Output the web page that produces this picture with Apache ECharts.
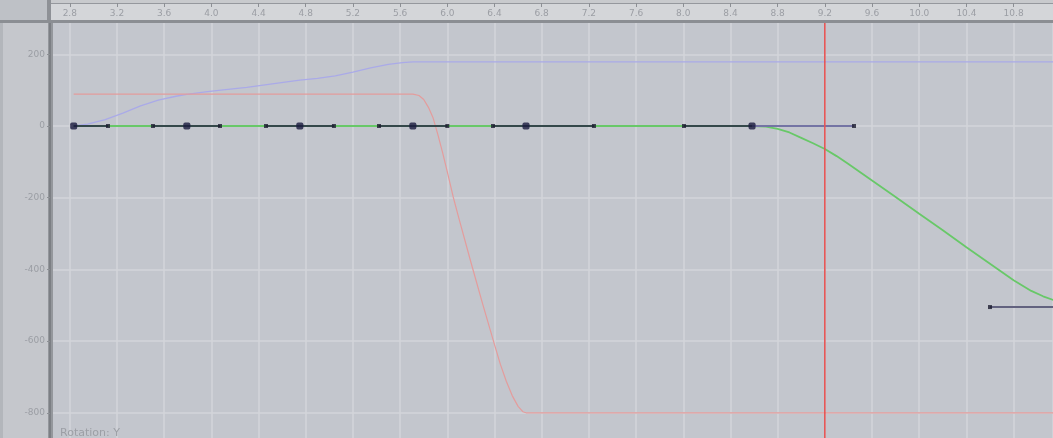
<!DOCTYPE html>
<html><head><meta charset="utf-8">
<script src="https://cdn.jsdelivr.net/npm/echarts@6/dist/echarts.min.js"></script>
<style>html,body{margin:0;padding:0;background:#c3c6cd;overflow:hidden}#c{width:1053px;height:438px;}</style>
</head><body><div id="c"></div>
<script>
// ---- data ----
const channelLabel = 'Rotation: Y';
const currentFrame = 9.2;

const blueX = [2.833, 2.95, 3.1, 3.25, 3.4, 3.55, 3.7, 3.792, 3.95, 4.1, 4.3, 4.5, 4.75, 4.9, 5.05, 5.2, 5.35, 5.5, 5.62, 5.708, 11.5];
const blueY = [0, 5, 18, 36, 56, 72, 83, 88, 95, 101, 108, 117, 128, 133, 140, 150, 162, 172, 177, 179, 179];

const redX = [2.833, 5.708, 5.76, 5.8, 5.84, 5.88, 5.92, 5.96, 6.0, 6.05, 6.1, 6.2, 6.3, 6.4, 6.45, 6.5, 6.55, 6.6, 6.64, 6.667, 11.5];
const redY = [89, 89, 85, 74, 52, 22, -24, -74, -128, -198, -260, -380, -497, -610, -665, -712, -752, -782, -797, -800, -800];

const greenX = [2.833, 8.583, 8.7, 8.8, 8.9, 9.0, 9.1, 9.2, 9.3, 9.4, 9.5, 9.6, 9.8, 10.0, 10.2, 10.4, 10.6, 10.8, 10.95, 11.05, 11.15, 11.3, 11.5];
const greenY = [0, 0, -2, -8, -18, -33, -48, -64, -84, -106, -129, -152, -198, -245, -291, -338, -384, -430, -460, -475, -487, -498, -505];

const keyX = [2.833, 3.792, 4.75, 5.708, 6.667, 8.583, 11.5];
const keyY = [0, 0, 0, 0, 0, 0, -505];
const handleLX = [null, 3.505, 4.463, 5.421, 6.387, 8.006, 10.6];
const handleRX = [3.124, 4.073, 5.039, 6.0, 7.243, 9.447, null];

// axis ranges / ticks
const xMin = 2.4, xMax = 11.134, xStep = 0.4;
const yMin = -1000, yMax = 400, yStep = 200;

// ---- chart ----
const zip = (xs, ys) => xs.map((x, i) => [x, ys[i]]);
const chart = echarts.init(document.getElementById('c'), null, {renderer: 'canvas'});

const gridLine = {show: true, lineStyle: {color: '#d3d5da', width: 1.5}};
const labelFont = {color: '#9b9ea4', fontSize: 9, fontFamily: 'DejaVu Sans'};

const series = [];
series.push({type: 'line', data: zip(blueX, blueY), showSymbol: false, lineStyle: {color: '#aaaae8', width: 1.3}, z: 2, silent: true});
series.push({type: 'line', data: zip(redX, redY), showSymbol: false, lineStyle: {color: '#e49c9c', width: 1.2}, z: 2, silent: true});
series.push({type: 'line', data: zip(greenX, greenY), showSymbol: false, lineStyle: {color: '#68c868', width: 1.8}, z: 3, silent: true});

// handle segments
const handleDots = [];
keyX.forEach((kx, i) => {
  const ky = keyY[i];
  const segs = [];
  if (handleLX[i] !== null) { segs.push([handleLX[i], 'L']); }
  if (handleRX[i] !== null) { segs.push([handleRX[i], 'R']); }
  segs.forEach(([hx, side]) => {
    let col = '#34484a';
    if (i === 5 && side === 'R') col = '#7474a4';
    if (i === 6) col = '#62627f';
    series.push({type: 'line', data: [[hx, ky], [kx, ky]], showSymbol: false, lineStyle: {color: col, width: 2}, z: 4, silent: true});
    handleDots.push([hx, ky]);
  });
});
series.push({type: 'scatter', data: handleDots, symbol: 'rect', symbolSize: 4, itemStyle: {color: '#1c1c30'}, z: 5, silent: true});
series.push({type: 'scatter', data: zip(keyX, keyY), symbol: 'roundRect', symbolSize: 7, itemStyle: {color: '#1a1a3e'}, z: 6, silent: true});
// current frame line
series.push({type: 'line', data: [[currentFrame, yMin], [currentFrame, yMax]], showSymbol: false, lineStyle: {color: '#e65454', width: 1.6}, z: 7, silent: true});

const gridLeft = 22.6, gridTop = -17.4, gridW = 1030.4, gridH = 501.9;

chart.setOption({
  animation: false,
  backgroundColor: '#c3c6cd',
  grid: {left: gridLeft, top: gridTop, width: gridW, height: gridH, containLabel: false, outerBoundsMode: 'none'},
  xAxis: [
    {type: 'value', min: xMin, max: xMax, interval: xStep, position: 'bottom', z: 0,
     axisLine: {show: false, onZero: false}, axisTick: {show: false}, axisLabel: {show: false}, splitLine: gridLine},
    {type: 'value', min: xMin, max: xMax, interval: xStep, position: 'top', offset: -20.4, z: 10,
     axisLine: {show: false, onZero: false}, splitLine: {show: false},
     axisTick: {show: true, inside: true, length: 4, lineStyle: {color: '#8c8f94', width: 1}},
     axisLabel: Object.assign({show: true, inside: true, margin: 6, showMinLabel: false, showMaxLabel: false,
       formatter: v => v.toFixed(1)}, labelFont)}
  ],
  yAxis: [
    {type: 'value', min: yMin, max: yMax, interval: yStep, position: 'left', z: 0,
     axisLine: {show: false, onZero: false}, axisTick: {show: false}, axisLabel: {show: false}, splitLine: gridLine},
    {type: 'value', min: yMin, max: yMax, interval: yStep, position: 'left', offset: -27.4, z: 10,
     axisLine: {show: false, onZero: false}, splitLine: {show: false},
     axisTick: {show: true, length: 3, lineStyle: {color: '#8c8f94', width: 1}},
     axisLabel: Object.assign({show: true, margin: 5, formatter: v => String(v)}, labelFont)}
  ],
  series: series,
  graphic: [
    // left gutter
    {type: 'rect', shape: {x: 0, y: 22, width: 48, height: 416}, style: {fill: '#c5c7cc'}, z: 8, silent: true},
    {type: 'rect', shape: {x: 0, y: 22, width: 3, height: 416}, style: {fill: '#b3b6bb'}, z: 8, silent: true},
    {type: 'rect', shape: {x: 48, y: 22, width: 5, height: 416}, style: {fill: '#94979c'}, z: 8, silent: true},
    {type: 'rect', shape: {x: 49, y: 22, width: 2, height: 416}, style: {fill: '#7c7f84'}, z: 8, silent: true},
    // top ruler
    {type: 'rect', shape: {x: 0, y: 0, width: 1053, height: 22}, style: {fill: '#d4d6d9'}, z: 8, silent: true},
    {type: 'rect', shape: {x: 0, y: 0, width: 1053, height: 3}, style: {fill: '#c8cacd'}, z: 8, silent: true},
    {type: 'rect', shape: {x: 0, y: 3, width: 1053, height: 1}, style: {fill: '#95989d'}, z: 8, silent: true},
    {type: 'rect', shape: {x: 0, y: 20, width: 1053, height: 3}, style: {fill: '#8b8e93'}, z: 8, silent: true},
    // top-left corner
    {type: 'rect', shape: {x: 0, y: 0, width: 48, height: 20}, style: {fill: '#bec1c6'}, z: 15, silent: true},
    {type: 'rect', shape: {x: 47, y: 0, width: 4, height: 22}, style: {fill: '#8e9196'}, z: 15, silent: true},
    {type: 'rect', shape: {x: 0, y: 20, width: 51, height: 3}, style: {fill: '#8b8e93'}, z: 15, silent: true},
    // channel label
    {type: 'text', x: 60, y: 433, style: {text: channelLabel, fill: '#9c9fa5', font: '11px "DejaVu Sans"', textVerticalAlign: 'middle'}, z: 12, silent: true}
  ]
});
</script>
</body></html>
